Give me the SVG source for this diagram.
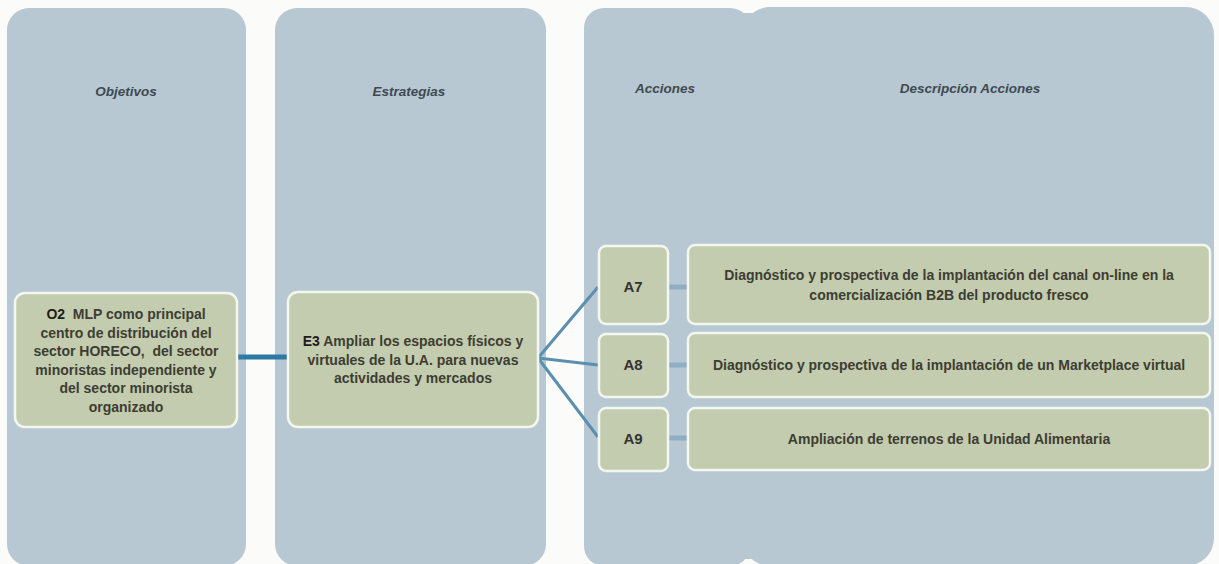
<svg xmlns="http://www.w3.org/2000/svg" width="1219" height="564" viewBox="0 0 1219 564">
<style>
.col{fill:#b8c8d2}
.node{fill:#c3ccae;stroke:#f4f6f0;stroke-width:2.5}
.hd{font-family:"Liberation Sans",Arial,sans-serif;font-size:13.5px;font-weight:bold;font-style:italic;fill:#3e4a52;text-anchor:middle}
.t{font-family:"Liberation Sans",Arial,sans-serif;font-size:14px;font-weight:bold;fill:#3d3d33;text-anchor:middle}
.a{font-family:"Liberation Sans",Arial,sans-serif;font-size:15px;font-weight:bold;fill:#333;text-anchor:middle}
.k{fill:#1c1c1c}
.main{stroke:#2d79a5;stroke-width:5;fill:none}
.br{stroke:#5a8fb0;stroke-width:3;fill:none}
.dash{stroke:#8eaec6;stroke-width:5;fill:none}
</style>
<rect width="1219" height="564" fill="#fbfbf9"/>
<g id="columns">
<rect class="col" x="7" y="8" width="239" height="558" rx="22"/>
<rect class="col" x="275" y="8" width="271" height="558" rx="22"/>
<rect class="col" x="584" y="8" width="166" height="558" rx="20"/>
<rect class="col" x="742" y="7" width="472" height="559" rx="28"/>
<rect class="col" x="720" y="13" width="60" height="546"/>
<text class="hd" x="126" y="96">Objetivos</text>
<text class="hd" x="409" y="96">Estrategias</text>
<text class="hd" x="665" y="93">Acciones</text>
<text class="hd" x="970" y="93">Descripción Acciones</text>
</g>
<g id="connectors">
<line class="main" x1="237" y1="357" x2="289" y2="357"/>
<line class="br" x1="538" y1="358" x2="598" y2="287"/>
<line class="br" x1="538" y1="358" x2="598" y2="365"/>
<line class="br" x1="538" y1="358" x2="598" y2="437"/>
<line class="dash" x1="668" y1="287" x2="688" y2="287"/>
<line class="dash" x1="668" y1="365" x2="688" y2="365"/>
<line class="dash" x1="668" y1="438" x2="688" y2="438"/>
</g>
<g id="O2">
<rect class="node" x="15" y="293" width="222" height="134" rx="10"/>
<text class="t"><tspan x="126" y="319"><tspan class="k">O2</tspan>&#160; MLP como principal</tspan><tspan x="126" y="337.5">centro de distribución del</tspan><tspan x="126" y="356">sector HORECO,&#160; del sector</tspan><tspan x="126" y="374.5">minoristas independiente y</tspan><tspan x="126" y="393">del sector minorista</tspan><tspan x="126" y="411.5">organizado</tspan></text>
</g>
<g id="E3">
<rect class="node" x="288" y="292" width="250" height="135" rx="10"/>
<text class="t"><tspan x="413" y="346"><tspan class="k">E3</tspan> Ampliar los espacios físicos y</tspan><tspan x="413" y="364.5">virtuales de la U.A. para nuevas</tspan><tspan x="413" y="383">actividades y mercados</tspan></text>
</g>
<g id="A7">
<rect class="node" x="599" y="246" width="69" height="78" rx="7"/>
<text class="a" x="633" y="292">A7</text>
</g>
<g id="A8">
<rect class="node" x="599" y="334" width="69" height="63" rx="7"/>
<text class="a" x="633" y="370">A8</text>
</g>
<g id="A9">
<rect class="node" x="599" y="408" width="69" height="63" rx="7"/>
<text class="a" x="633" y="444">A9</text>
</g>
<g id="D7">
<rect class="node" x="688" y="245" width="522" height="79" rx="7"/>
<text class="t"><tspan x="949" y="280">Diagnóstico y prospectiva de la implantación del canal on-line en la</tspan><tspan x="949" y="300">comercialización B2B del producto fresco</tspan></text>
</g>
<g id="D8">
<rect class="node" x="688" y="333" width="522" height="64" rx="7"/>
<text class="t" x="949" y="370">Diagnóstico y prospectiva de la implantación de un Marketplace virtual</text>
</g>
<g id="D9">
<rect class="node" x="688" y="408" width="522" height="62" rx="7"/>
<text class="t" x="949" y="444">Ampliación de terrenos de la Unidad Alimentaria</text>
</g>
</svg>
